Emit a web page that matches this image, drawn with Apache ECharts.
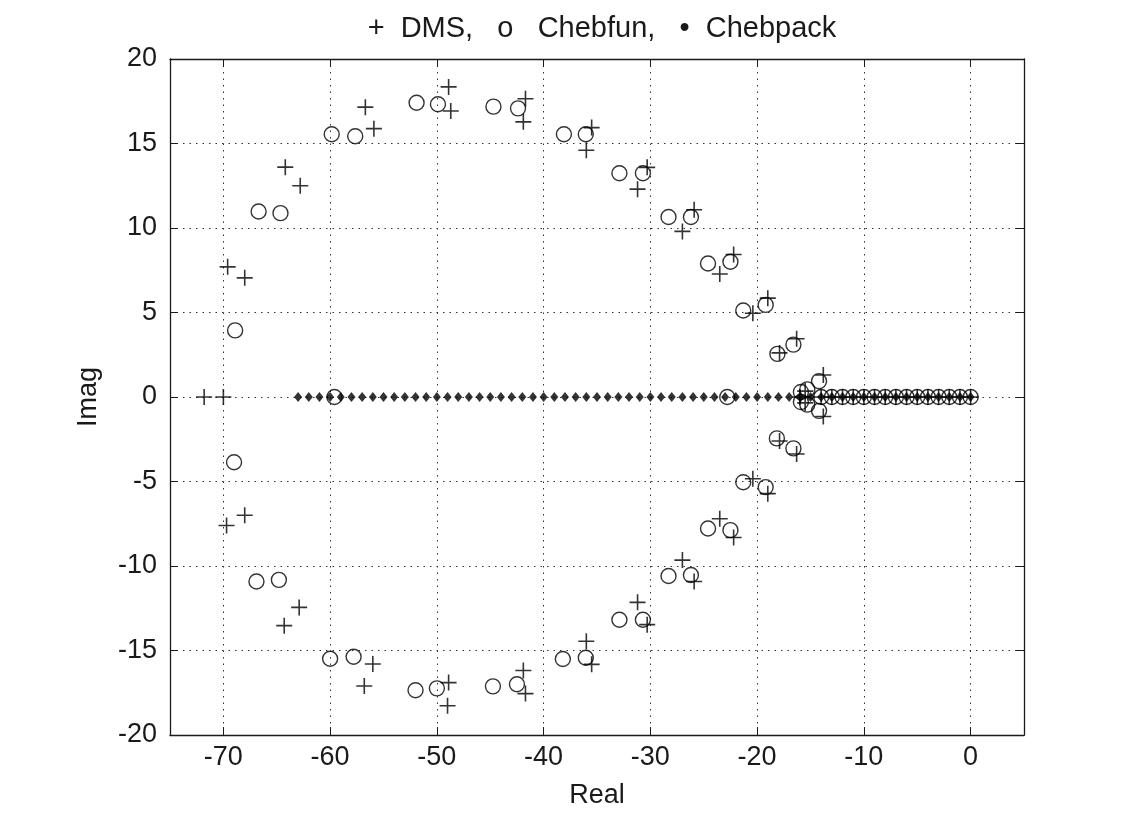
<!DOCTYPE html>
<html>
<head>
<meta charset="utf-8">
<script src="https://cdn.jsdelivr.net/npm/echarts@6/dist/echarts.min.js"></script>
<style>
html,body{margin:0;padding:0;background:#fff;}
#chart{width:1140px;height:814px;}
</style>
</head>
<body>
<div id="chart"></div>
<script>
// ---- Data ----
const titleText = '+  DMS,   o   Chebfun,   \u2022  Chebpack';
const xTickValues = [-70, -60, -50, -40, -30, -20, -10, 0];
const yTickValues = [-20, -15, -10, -5, 0, 5, 10, 15, 20];

const dmsReal = [
  -71.8, -70.0,
  -69.6, -68.0, -64.2, -62.8, -56.7, -55.9, -48.9, -48.7, -41.7, -41.9,
  -35.5, -36.0, -30.3, -31.2, -25.9, -27.0, -22.2, -23.5, -19.0, -20.4,
  -16.3, -17.9, -13.8,
  -69.7, -68.0, -64.3, -62.9, -56.8, -56.0, -48.9, -49.0, -41.9, -41.7,
  -35.5, -36.0, -30.3, -31.2, -25.9, -27.0, -22.2, -23.5, -19.0, -20.4,
  -16.3, -17.9, -13.8,
  -16.0, -15.5, -15.5,
  -14, -13, -12, -11, -10, -9, -8, -7, -6, -5, -4, -3, -2, -1, 0
];
const dmsImag = [
  0, 0,
  7.7, 7.05, 13.6, 12.5, 17.15, 15.88, 18.35, 16.92, 17.65, 16.28,
  15.94, 14.6, 13.59, 12.3, 11.08, 9.8, 8.43, 7.28, 5.85, 4.96,
  3.45, 2.61, 1.3,
  -7.6, -7.0, -13.53, -12.45, -17.1, -15.8, -16.9, -18.27, -16.18, -17.55,
  -15.82, -14.45, -13.47, -12.15, -10.92, -9.65, -8.31, -7.2, -5.72, -4.84,
  -3.37, -2.6, -1.15,
  0, 0.35, -0.35,
  0, 0, 0, 0, 0, 0, 0, 0, 0, 0, 0, 0, 0, 0, 0
];

const chebfunReal = [
  -59.6, -22.8,
  -68.9, -69.0,
  -66.7, -64.65, -66.9, -64.8,
  -59.85, -57.65, -60.0, -57.8,
  -51.9, -49.9, -52.0, -50.0,
  -44.7, -42.4, -44.75, -42.5,
  -38.1, -36.05, -38.2, -36.05,
  -32.9, -30.7, -32.9, -30.7,
  -28.3, -26.2, -28.3, -26.2,
  -24.6, -22.5, -24.6, -22.5,
  -21.3, -19.2, -21.3, -19.2,
  -18.1, -16.6, -18.15, -16.6,
  -14.2, -14.2,
  -15.9, -15.9, -15.3, -15.3,
  -14, -13, -12, -11, -10, -9, -8, -7, -6, -5, -4, -3, -2, -1, 0
];
const chebfunImag = [
  0, 0,
  3.94, -3.86,
  10.98, 10.88, -10.92, -10.82,
  15.55, 15.43, -15.49, -15.37,
  17.41, 17.32, -17.35, -17.24,
  17.18, 17.08, -17.12, -17.0,
  15.55, 15.55, -15.5, -15.43,
  13.24, 13.24, -13.18, -13.18,
  10.65, 10.65, -10.59, -10.53,
  7.9, 8.0, -7.78, -7.88,
  5.12, 5.45, -5.04, -5.33,
  2.55, 3.1, -2.45, -3.04,
  0.94, -0.82,
  0.3, -0.3, 0.45, -0.45,
  0, 0, 0, 0, 0, 0, 0, 0, 0, 0, 0, 0, 0, 0, 0
];

const chebpackReal = [
  -63, -62, -61, -60, -59, -58, -57, -56, -55, -54, -53, -52, -51, -50, -49, -48,
  -47, -46, -45, -44, -43, -42, -41, -40, -39, -38, -37, -36, -35, -34, -33, -32,
  -31, -30, -29, -28, -27, -26, -25, -24, -23, -22, -21, -20, -19, -18, -17, -16,
  -15, -14, -13, -12, -11, -10, -9, -8, -7, -6, -5, -4, -3, -2, -1, 0
];
const chebpackImag = [
  0, 0, 0, 0, 0, 0, 0, 0, 0, 0, 0, 0, 0, 0, 0, 0,
  0, 0, 0, 0, 0, 0, 0, 0, 0, 0, 0, 0, 0, 0, 0, 0,
  0, 0, 0, 0, 0, 0, 0, 0, 0, 0, 0, 0, 0, 0, 0, 0,
  0, 0, 0, 0, 0, 0, 0, 0, 0, 0, 0, 0, 0, 0, 0, 0
];

// ---- Build chart ----
const zip = (a, b) => a.map((v, i) => [v, b[i]]);
const FONT = '"Liberation Sans", Arial, sans-serif';
const INK = '#1a1a1a';
const FS = 27;

const chart = echarts.init(document.getElementById('chart'), null, {renderer: 'canvas'});

const tickCommon = {show: true, inside: true, length: 8, lineStyle: {color: INK, width: 1}};
const lineCommon = {show: true, onZero: false, lineStyle: {color: INK, width: 1.3}};
const gridLine = {show: true, lineStyle: {color: '#333', width: 1, type: [1.5, 5]}};

const option = {
  backgroundColor: '#fff',
  animation: false,
  title: {
    text: titleText,
    left: 597,
    textAlign: 'center',
    top: 9,
    textStyle: {fontFamily: FONT, fontSize: 29, fontWeight: 'normal', color: INK}
  },
  grid: {left: 170, right: 116, top: 59, bottom: 77, containLabel: false},
  xAxis: [{
    type: 'value', position: 'bottom', min: -75, max: 5,
    splitNumber: 8, minInterval: 10, maxInterval: 10,
    name: 'Real', nameLocation: 'middle', nameGap: 47,
    nameTextStyle: {fontFamily: FONT, fontSize: FS, color: INK},
    axisLine: lineCommon, axisTick: tickCommon, splitLine: gridLine,
    axisLabel: {
      fontFamily: FONT, fontSize: FS, color: INK, margin: 9,
      showMinLabel: false, showMaxLabel: false,
      formatter: v => xTickValues.indexOf(v) >= 0 ? String(v) : ''
    }
  }, {
    type: 'value', position: 'top', min: -75, max: 5,
    splitNumber: 8, minInterval: 10, maxInterval: 10,
    axisLine: lineCommon, axisTick: tickCommon, splitLine: {show: false},
    axisLabel: {show: false}
  }],
  yAxis: [{
    type: 'value', position: 'left', min: -20, max: 20, interval: 5,
    name: 'Imag', nameLocation: 'middle', nameGap: 68, nameRotate: 90,
    nameTextStyle: {fontFamily: FONT, fontSize: FS, color: INK},
    axisLine: lineCommon, axisTick: tickCommon, splitLine: gridLine,
    axisLabel: {
      fontFamily: FONT, fontSize: FS, color: INK, margin: 13,
      formatter: v => yTickValues.indexOf(v) >= 0 ? String(v) : ''
    }
  }, {
    type: 'value', position: 'right', min: -20, max: 20, interval: 5,
    axisLine: lineCommon, axisTick: tickCommon, splitLine: {show: false},
    axisLabel: {show: false}
  }],
  series: [
    {
      name: 'Chebpack', type: 'scatter', xAxisIndex: 0, yAxisIndex: 0,
      data: zip(chebpackReal, chebpackImag),
      symbol: 'diamond', symbolSize: [8, 10],
      itemStyle: {color: '#000'}, z: 3
    },
    {
      name: 'Chebfun', type: 'scatter', xAxisIndex: 0, yAxisIndex: 0,
      data: zip(chebfunReal, chebfunImag),
      symbol: 'circle', symbolSize: 15,
      itemStyle: {color: 'rgba(0,0,0,0)', borderColor: '#000', borderWidth: 1.4}, z: 4
    },
    {
      name: 'DMS', type: 'scatter', xAxisIndex: 0, yAxisIndex: 0,
      data: zip(dmsReal, dmsImag),
      symbol: 'path://M5,0 L5,10 M0,5 L10,5', symbolSize: 16,
      itemStyle: {color: 'rgba(0,0,0,0)', borderColor: '#000', borderWidth: 1.6}, z: 5
    }
  ]
};
chart.setOption(option);
</script>
</body>
</html>
